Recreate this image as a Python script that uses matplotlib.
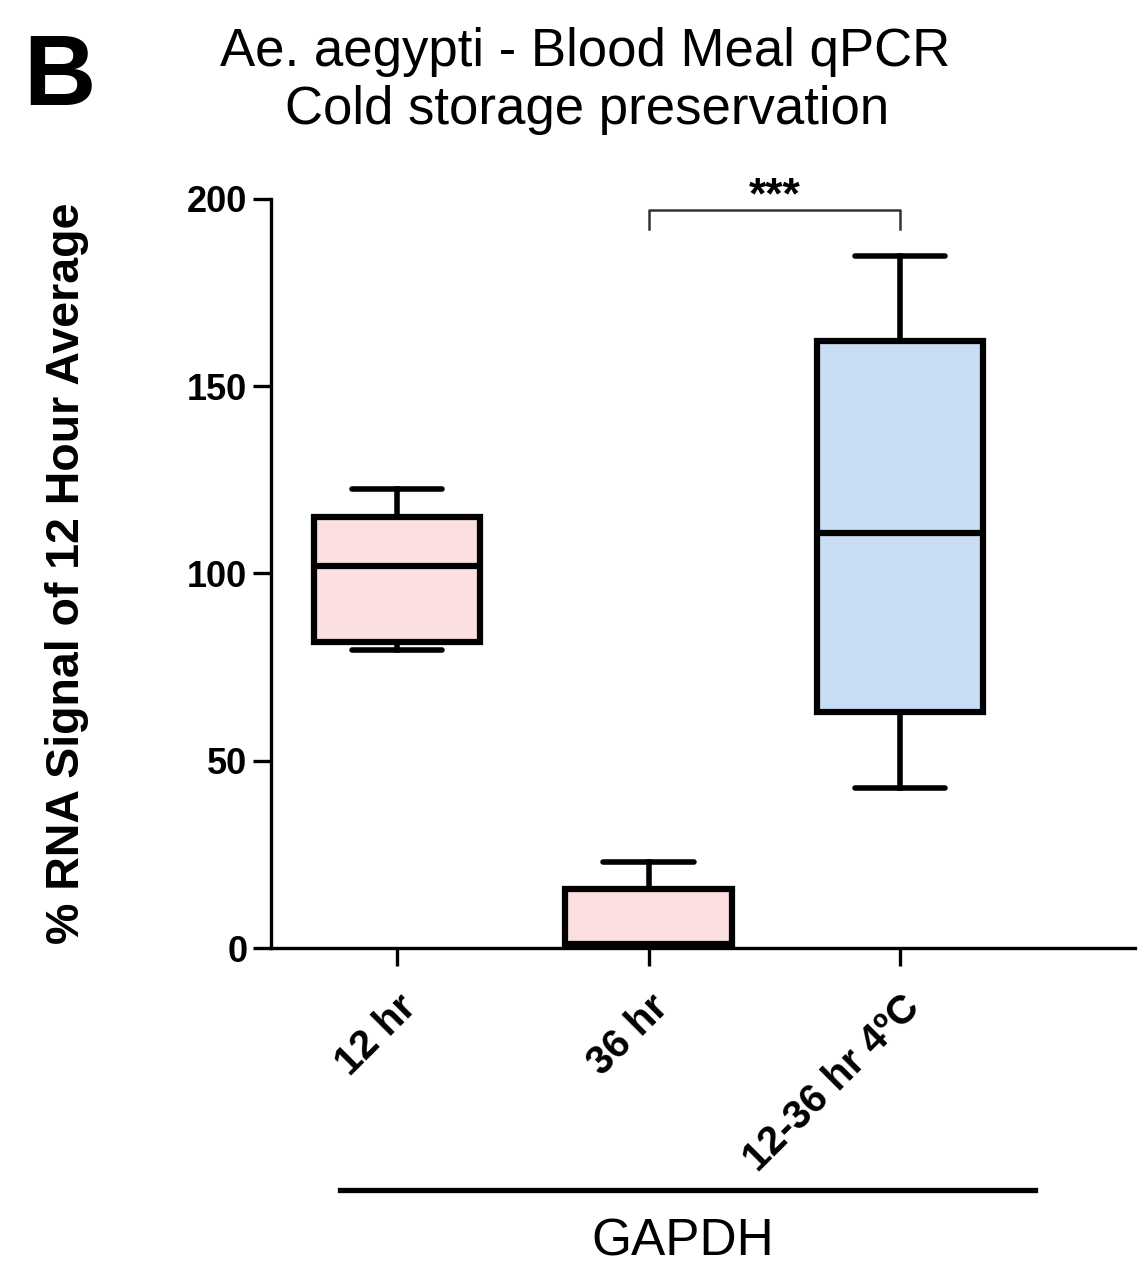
import matplotlib
matplotlib.use("Agg")
import matplotlib.pyplot as plt

plt.rcParams['font.family'] = ['Liberation Sans', 'DejaVu Sans']

# box stats (whisker low, Q1, median, Q3, whisker high)
groups = ['12 hr', '36 hr', '12-36 hr 4ºC']
whislo = [79.6, 0.3, 42.7]
q1 = [81.7, 0.5, 63.0]
med = [102.0, 1.0, 110.8]
q3 = [115.1, 15.8, 162.0]
whishi = [122.6, 23.0, 184.8]
colors = ['#fce0e0', '#fce0e0', '#c9ddf5']

stats = []
for i, g in enumerate(groups):
    stats.append({'label': g, 'whislo': whislo[i], 'q1': q1[i], 'med': med[i],
                  'q3': q3[i], 'whishi': whishi[i], 'fliers': []})

fig = plt.figure(figsize=(11.41, 12.73), dpi=100)
ax = fig.add_axes([271 / 1141, 0.2553, 864 / 1141, 0.5884])

bp = ax.bxp(stats, positions=[1, 2, 3], widths=0.66, patch_artist=True,
            showfliers=False, capwidths=0.36,
            boxprops=dict(linewidth=4.5, edgecolor='black'),
            medianprops=dict(color='black', linewidth=4.5),
            whiskerprops=dict(color='black', linewidth=4.0),
            capprops=dict(color='black', linewidth=4.0, solid_capstyle='round'))
for patch, c in zip(bp['boxes'], colors):
    patch.set_facecolor(c)
for m in bp['medians']:
    m.set_solid_capstyle('butt')

ax.set_xlim(0.5, 3.933)
ax.set_ylim(0, 200)
ax.set_yticks([0, 50, 100, 150, 200])
ax.spines['top'].set_visible(False)
ax.spines['right'].set_visible(False)
for s in ['left', 'bottom']:
    ax.spines[s].set_linewidth(2.4)
ax.tick_params(axis='y', width=2.4, length=13, labelsize=26, pad=4)
ax.tick_params(axis='x', width=2.4, length=13, pad=16)
for lbl in ax.get_yticklabels():
    lbl.set_fontweight('bold')
ax.set_xticks([1, 2, 3])
ax.set_xticklabels(groups, rotation=45, ha='right', rotation_mode='anchor',
                   fontweight='bold', fontsize=29)

ax.set_ylabel('% RNA Signal of 12 Hour Average', fontsize=33.5, fontweight='bold')
ax.yaxis.set_label_coords(-0.211, 0.5)

# significance bracket
ax.plot([2, 2, 3, 3], [192, 197, 197, 192], color='#333333', lw=1.8, clip_on=False)
ax.text(2.5, 195, '***', ha='center', va='bottom', fontsize=32,
        fontweight='bold', clip_on=False)

fig.text(585 / 1141, 1 - 52 / 1273, 'Ae. aegypti - Blood Meal qPCR',
         ha='center', va='center', fontsize=38)
fig.text(587 / 1141, 1 - 110 / 1273, 'Cold storage preservation',
         ha='center', va='center', fontsize=38)
fig.text(0.02, 0.975, 'B', ha='left', va='top', fontsize=72, fontweight='bold')

fig.add_artist(plt.Line2D([340 / 1141, 1035 / 1141], [1 - 1190 / 1273, 1 - 1190 / 1273],
                          color='black', lw=3.8, transform=fig.transFigure))
fig.text(683 / 1141, 1 - 1242 / 1273, 'GAPDH', ha='center', va='center', fontsize=37)

fig.savefig('out.png', dpi=100)
